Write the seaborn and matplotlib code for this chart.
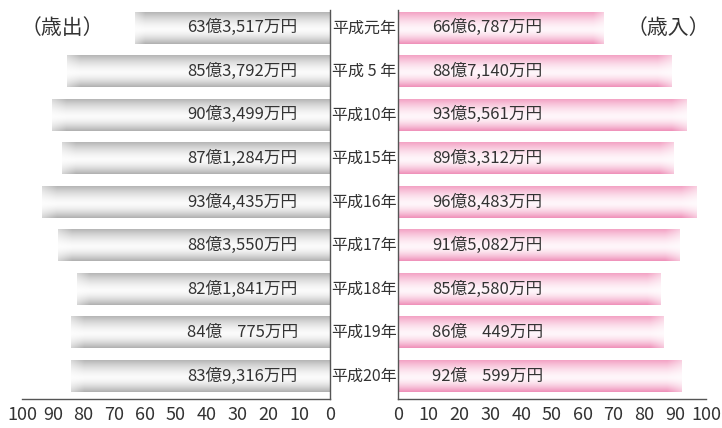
import numpy as np
import pandas as pd
import matplotlib
matplotlib.use("Agg")
import matplotlib.pyplot as plt
import seaborn as sns

# 年度ラベル
years = ["平成元年", "平成 5 年", "平成10年", "平成15年", "平成16年",
         "平成17年", "平成18年", "平成19年", "平成20年"]
# 歳出（億円）
expenditure = [63.35, 85.38, 90.35, 87.13, 93.44, 88.36, 82.18, 84.08, 83.93]
expenditure_labels = ["63億3,517万円", "85億3,792万円", "90億3,499万円", "87億1,284万円",
                      "93億4,435万円", "88億3,550万円", "82億1,841万円", "84億    775万円",
                      "83億9,316万円"]
# 歳入（億円）
revenue = [66.68, 88.71, 93.56, 89.33, 96.85, 91.51, 85.26, 86.04, 92.06]
revenue_labels = ["66億6,787万円", "88億7,140万円", "93億5,561万円", "89億3,312万円",
                  "96億8,483万円", "91億5,082万円", "85億2,580万円", "86億    449万円",
                  "92億    599万円"]
ticks = [0, 10, 20, 30, 40, 50, 60, 70, 80, 90, 100]

sns.set_style("white")
plt.rcParams["font.family"] = ["Noto Sans CJK JP", "DejaVu Sans"]

df = pd.DataFrame({"year": years, "out": expenditure, "in": revenue})

W, H = 722, 428
fig = plt.figure(figsize=(W / 100, H / 100), dpi=100)
bottom = (H - 399) / H
height = 389 / H
ax_l = fig.add_axes([22 / W, bottom, 308 / W, height])
ax_r = fig.add_axes([398 / W, bottom, 308 / W, height])


def gradient(edge_top, edge_bot, center, n=64, m=200):
    t = np.linspace(0, 1, n)[:, None]
    c = 0.55
    s = np.where(t < c, 1 - (np.abs(t - c) / c) ** 1.6, 1 - (np.abs(t - c) / (1 - c)) ** 1.6)
    edge = np.where(t < c, 1.0, 0.0) * np.array(edge_top) + np.where(t < c, 0.0, 1.0) * np.array(edge_bot)
    img = edge + (np.array(center) - edge) * s
    img = np.repeat(img[:, None, :], m, axis=1)
    # 外側の端を少し明るく
    u = np.linspace(0, 1, m)
    fade = np.clip((u - 0.95) / 0.05, 0, 1) * 0.45
    img = img + (1 - img) * fade[None, :, None]
    return np.clip(img, 0, 1)


def rgb(h):
    return [int(h[i:i + 2], 16) / 255 for i in (1, 3, 5)]


gray_img = gradient(rgb("#b6b6b6"), rgb("#b0b0b0"), rgb("#fbfbfb"))
pink_img = gradient(rgb("#f3a2c4"), rgb("#ef90b9"), rgb("#fff6fa"))

sns.barplot(data=df, y="year", x="out", orient="h", ax=ax_l, color="#cccccc", width=0.735)
sns.barplot(data=df, y="year", x="in", orient="h", ax=ax_r, color="#f5b0cc", width=0.735)

for ax, img in ((ax_l, gray_img), (ax_r, pink_img)):
    for p in ax.patches:
        x, y, w, h = p.get_x(), p.get_y(), p.get_width(), p.get_height()
        ax.imshow(img, extent=(x, x + w, y + h, y), aspect="auto", origin="upper",
                  interpolation="bilinear", zorder=2)
        p.set_visible(False)
    ax.set_ylim(8.53, -0.41)
    ax.set_yticks([])
    ax.set_ylabel("")
    ax.set_xlabel("")
    ax.set_xticks(ticks)
    ax.set_xticklabels([str(t) for t in ticks], fontsize=13, color="#333333")
    ax.tick_params(axis="x", direction="in", length=6, width=1, color="#555555", pad=5)
    for s in ax.spines.values():
        s.set_color("#555555")
        s.set_linewidth(1)
    ax.spines["top"].set_visible(False)

ax_l.set_xlim(100, 0)
ax_r.set_xlim(0, 100)
ax_l.spines["left"].set_visible(False)
ax_r.spines["right"].set_visible(False)

for i in range(len(years)):
    ax_l.text(10.5, i, expenditure_labels[i], ha="right", va="center", fontsize=12,
              color="#333333", zorder=3)
    ax_r.text(11, i, revenue_labels[i], ha="left", va="center", fontsize=12,
              color="#333333", zorder=3)
    ax_l.annotate(years[i], xy=(0, i), xycoords="data", xytext=(34, 0), textcoords="offset pixels",
                  ha="center", va="center", fontsize=11.5, color="#333333", annotation_clip=False)

fig.text(62 / W, 1 - 28 / H, "（歳出）", ha="center", va="center", fontsize=15, color="#333333")
fig.text(668 / W, 1 - 28 / H, "（歳入）", ha="center", va="center", fontsize=15, color="#333333")

fig.savefig("out.png", dpi=100)
